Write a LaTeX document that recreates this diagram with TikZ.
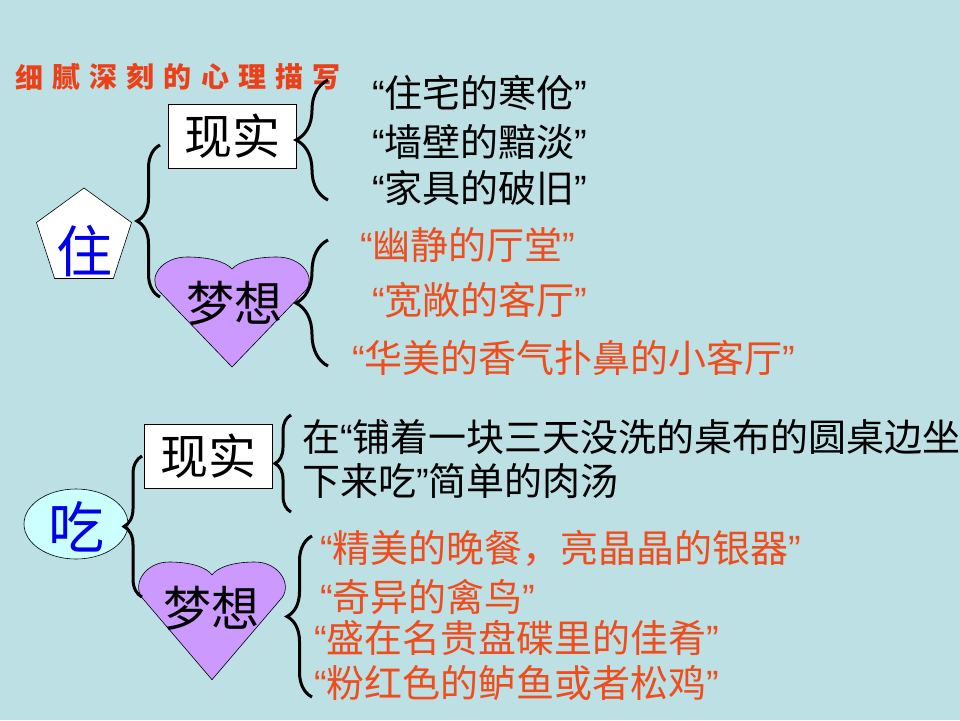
\documentclass[tikz,border=0pt]{standalone}
\usepackage{fontspec}
\setmainfont{Noto Sans CJK SC}
\newfontfamily\quotefont{Liberation Sans}
\newcommand{\qo}{{\quotefont “}}
\newcommand{\qc}{{\quotefont ”}}
\usetikzlibrary{shapes.geometric,decorations.pathreplacing}

\definecolor{slidebg}{RGB}{188,224,227}
\definecolor{titlered}{RGB}{236,64,24}
\definecolor{wishred}{RGB}{240,76,28}
\definecolor{topicblue}{RGB}{0,0,235}
\definecolor{dreampurple}{RGB}{204,153,255}
\definecolor{eatcyan}{RGB}{204,255,255}

\tikzset{
  realbox/.style={draw, fill=white, line width=0.8, inner sep=0,
    minimum width=128, minimum height=64, font=\fontsize{48}{48}\selectfont},
  dreamtxt/.style={inner sep=0, font=\fontsize{48}{48}\selectfont},
  topic/.style={text=topicblue, inner sep=0, font=\fontsize{56}{56}\selectfont},
  fact/.style={anchor=west, inner sep=0, font=\fontsize{38}{40}\selectfont},
  wish/.style={fact, text=wishred},
  titlech/.style={text=titlered, inner sep=0, font=\fontsize{28}{28}\selectfont\bfseries},
  brc/.style={decorate, decoration={brace, amplitude=#1}, line width=3},
  heart/.pic={
    \draw[fill=dreampurple, line width=0.6] (0,110) -- (-74,33)
      .. controls (-84,20) and (-70,0) .. (-45,0)
      .. controls (-22,0) and (-6,5) .. (0,12)
      .. controls (6,5) and (22,0) .. (45,0)
      .. controls (70,0) and (84,20) .. (74,33) -- cycle;
  }
}

\begin{document}
\begin{tikzpicture}[x=1pt,y=-1pt]
  \fill[slidebg] (0,0) rectangle (960,720);
  \useasboundingbox (0,0) rectangle (960,720);

  % Title
  \foreach \ch [count=\i] in {细,腻,深,刻,的,心,理,描,写}
    \node[titlech] (title\i) at ({29+37.2*(\i-1)},77) {\ch};

  % Nodes: zhu
  \node[regular polygon, regular polygon sides=5, minimum size=100, inner sep=0,
    draw, fill=white, line width=0.6] (zhubox) at (84,238) {};
  \node[topic] (zhu) at (84,251) {住};
  \node[realbox] (zhureal) at (232,136) {现实};
  \pic at (232,257) {heart};
  \node[dreamtxt] (zhudream) at (234,303) {梦想};

  \node[fact] (zhu_f1) at (372,93) {\qo 住宅的寒伧\qc};
  \node[fact] (zhu_f2) at (372,142) {\qo 墙壁的黯淡\qc};
  \node[fact] (zhu_f3) at (372,188) {\qo 家具的破旧\qc};
  \node[wish] (zhu_w1) at (360,245) {\qo 幽静的厅堂\qc};
  \node[wish] (zhu_w2) at (372,300) {\qo 宽敞的客厅\qc};
  \node[wish] (zhu_w3) at (352,358) {\qo 华美的香气扑鼻的小客厅\qc};

  % Nodes: chi
  \node[ellipse, draw, fill=eatcyan, line width=0.6, inner sep=0,
    minimum width=104, minimum height=70] (chibox) at (76,524) {};
  \node[topic] (chi) at (76,527) {吃};
  \node[realbox] (chireal) at (208,456) {现实};
  \pic[xscale=0.95, yscale=1.07] at (212,562) {heart};
  \node[dreamtxt] (chidream) at (211,608) {梦想};

  \node[fact] (chi_f1) at (302,437) {在\qo 铺着一块三天没洗的桌布的圆桌边坐};
  \node[fact] (chi_f2) at (302,481) {下来吃\qc 简单的肉汤};
  \node[wish] (chi_w1) at (320,548) {\qo 精美的晚餐，亮晶晶的银器\qc};
  \node[wish] (chi_w2) at (320,597) {\qo 奇异的禽鸟\qc};
  \node[wish] (chi_w3) at (314,638) {\qo 盛在名贵盘碟里的佳肴\qc};
  \node[wish] (chi_w4) at (314,683) {\qo 粉红色的鲈鱼或者松鸡\qc};

  % Brace ends
  \coordinate (zhu_t) at (160,145);  \coordinate (zhu_b) at (160,297);
  \coordinate (zr_t) at (328,80);    \coordinate (zr_b) at (328,200);
  \coordinate (zd_t) at (328,240);   \coordinate (zd_b) at (328,366);
  \coordinate (chi_t) at (142,456);  \coordinate (chi_b) at (142,597);
  \coordinate (cr_t) at (291,415);   \coordinate (cr_b) at (291,512);
  \coordinate (cd_t) at (312,536);   \coordinate (cd_b) at (312,697);

  % Braces
  \draw[brc=23] (zhu_b) -- (zhu_t);
  \draw[brc=32] (zr_b) -- (zr_t);
  \draw[brc=32] (zd_b) -- (zd_t);
  \draw[brc=18] (chi_b) -- (chi_t);
  \draw[brc=16] (cr_b) -- (cr_t);
  \draw[brc=25] (cd_b) -- (cd_t);
\end{tikzpicture}
\end{document}
